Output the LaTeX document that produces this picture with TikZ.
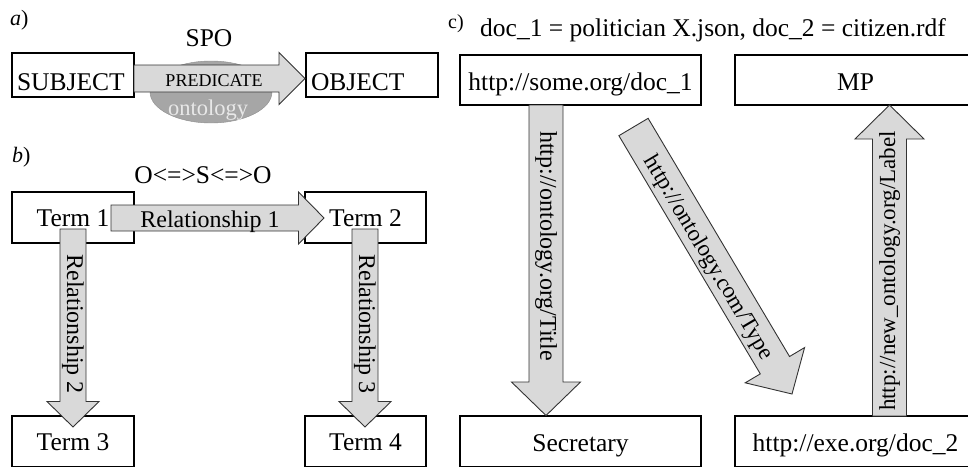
\documentclass[tikz,border=0pt]{standalone}
\usepackage{fontspec}
\setmainfont{Liberation Serif}
\usetikzlibrary{calc,shapes.geometric}
\definecolor{arrfill}{HTML}{D9D9D9}
\definecolor{ellfill}{HTML}{A6A6A6}
\definecolor{onttext}{HTML}{E8E8E8}
\newcommand\myfs[1]{\fontsize{#1}{#1}\selectfont}
\newcommand\fatarrow[5]{%
  \coordinate (fa-b) at ($(#2)!#5!(#1)$);
  \draw[fatstyle] ($(#1)!#3!90:(#2)$) -- ($(fa-b)!#3!90:(#2)$) -- ($(fa-b)!#4!90:(#2)$) -- (#2)
    -- ($(fa-b)!#4!-90:(#2)$) -- ($(fa-b)!#3!-90:(#2)$) -- ($(#1)!#3!-90:(#2)$) -- cycle;
}
\tikzset{
  box/.style={draw=black, line width=1.8pt, inner sep=0pt, text depth=0pt, font=\myfs{25.5}},
  fatstyle/.style={draw=black!80, line width=0.9pt, fill=arrfill, line join=miter},
  lbl/.style={inner sep=0pt, font=\myfs{25.5}},
  arrlbl/.style={inner sep=0pt, font=\myfs{24}},
}
\begin{document}
\begin{tikzpicture}[x=1pt,y=-1pt]
\useasboundingbox (0,0) rectangle (968,466);

% ---------- panel a ----------
\node[lbl, font=\myfs{22}, anchor=base west] (alab) at (10,25) {\textit{a})};
\node[lbl, anchor=base] (spo) at (209,46) {SPO};
\node[box, text width=112pt, inner xsep=5pt, align=left, minimum height=43.5pt, text height=30pt] (subj) at (73,75) {SUBJECT};
\node[box, text width=122pt, inner xsep=5pt, align=left, minimum height=43.5pt, text height=30pt] (obj) at (372,75) {OBJECT};
\node[ellipse, draw=ellfill!85!black, fill=ellfill, minimum width=122pt, minimum height=62pt, inner sep=0pt] (ont) at (211,92) {};
\node[inner sep=0pt, anchor=base, text=onttext, font=\myfs{22.5}] (onttxt) at (208,115) {ontology};
\coordinate (pa1) at (134,78.5);
\coordinate (pa2) at (305,78.5);
\fatarrow{pa1}{pa2}{13.5pt}{26pt}{26pt}
\node[inner sep=0pt, anchor=base, font=\myfs{18}] (pred) at (214,86) {PREDICATE};

% ---------- panel b ----------
\node[lbl, font=\myfs{22}, anchor=base west] (blab) at (12,162) {\textit{b})};
\node[lbl, anchor=base] (oso) at (203,183) {O<=>S<=>O};
\node[box, minimum width=122pt, minimum height=51pt, text height=18pt] (t1) at (73,217.5) {Term 1};
\node[box, minimum width=121pt, minimum height=51pt, text height=18pt] (t2) at (365.5,217.5) {Term 2};
\node[box, minimum width=122pt, minimum height=51pt, text height=18pt] (t3) at (73,441.5) {Term 3};
\node[box, minimum width=121pt, minimum height=51pt, text height=18pt] (t4) at (365.5,441.5) {Term 4};
\coordinate (r1a) at (111,218);
\coordinate (r1b) at (324,218);
\coordinate (r2a) at (73,229);
\coordinate (r2b) at (73,427);
\coordinate (r3a) at (365,229);
\coordinate (r3b) at (365,427);
\fatarrow{r1a}{r1b}{13pt}{26pt}{25.5pt}
\fatarrow{r2a}{r2b}{13pt}{26pt}{25.5pt}
\fatarrow{r3a}{r3b}{13pt}{26pt}{25.5pt}
\node[arrlbl, anchor=base] (rel1) at (210,227) {Relationship 1};
\node[arrlbl, rotate=-90] (rel2) at (73,324) {Relationship 2};
\node[arrlbl, rotate=-90] (rel3) at (365,324) {Relationship 3};

% ---------- panel c ----------
\node[lbl, font=\myfs{20}, anchor=base west] (clab) at (448,28) {c)};
\node[lbl, anchor=base west] (ctitle) at (480,36) {doc\_1 = politician X.json, doc\_2 = citizen.rdf};
\node[box, minimum width=241pt, minimum height=50pt, text height=20pt] (doc1) at (580.5,80) {http://some.org/doc\_1};
\node[box, minimum width=241pt, minimum height=50pt, text height=20pt] (mp) at (855.5,80) {MP};
\node[box, minimum width=241pt, minimum height=51pt, text height=20pt] (sec) at (580.5,441.5) {Secretary};
\node[box, minimum width=241pt, minimum height=51pt, text height=20pt] (exe) at (855.5,441.5) {http://exe.org/doc\_2};
\coordinate (ca1) at (546,105);
\coordinate (ca2) at (546,415.5);
\coordinate (cb1) at (633.5,127);
\coordinate (cb2) at (792,394);
\coordinate (cc1) at (889.5,416);
\coordinate (cc2) at (889.5,105);
\fatarrow{ca1}{ca2}{17pt}{34.5pt}{33.5pt}
\fatarrow{cb1}{cb2}{17pt}{34.5pt}{33.5pt}
\fatarrow{cc1}{cc2}{17pt}{34.5pt}{34pt}
\node[arrlbl, rotate=-90] (ttl) at (546,246) {http://ontology.org/Title};
\node[arrlbl, font=\myfs{23}, rotate=-59.3] (typ) at (708,258) {http://ontology.com/Type};
\node[arrlbl, font=\myfs{23}, rotate=90] (lab) at (889.5,271) {http://new\_ontology.org/Label};
\end{tikzpicture}
\end{document}
